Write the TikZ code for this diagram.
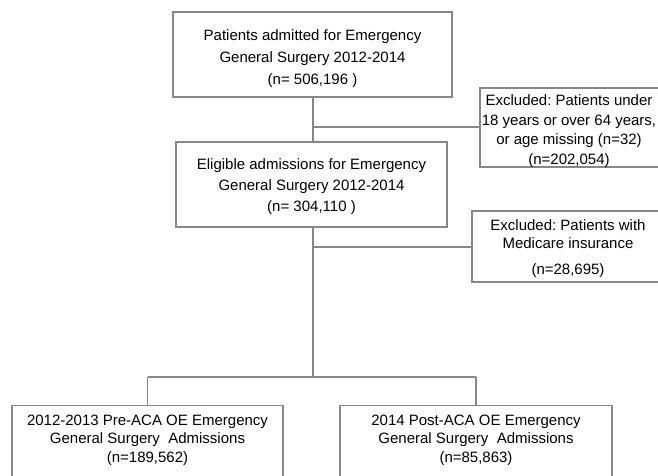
\documentclass[tikz,border=0pt]{standalone}
\usepackage{fontspec}
\setmainfont{Liberation Sans}
\frenchspacing
\definecolor{linegray}{RGB}{135,135,135}
\begin{document}
\begin{tikzpicture}[x=1pt,y=-1pt,
  flowbox/.style={draw=linegray, line width=1.1pt, fill=white, inner sep=0pt},
  boxtext/.style={align=center, anchor=north, inner sep=0pt, text=black},
  conn/.style={draw=linegray, line width=1.1pt}]
\useasboundingbox (0,0) rectangle (658,476);
\clip (0,0) rectangle (658,476);
% boxes
\node[flowbox, minimum width=279pt, minimum height=85pt] (b1) at (312.5,54.5) {};
\node[flowbox, minimum width=184pt, minimum height=79pt] (e1) at (572,127.5) {};
\node[flowbox, minimum width=271pt, minimum height=85pt] (b2) at (311.5,184.5) {};
\node[flowbox, minimum width=194pt, minimum height=71pt] (e2) at (569,246.5) {};
\node[flowbox, minimum width=271pt, minimum height=100pt, anchor=north] (b3) at (147.5,405) {};
\node[flowbox, minimum width=272pt, minimum height=100pt, anchor=north] (b4) at (476,405) {};
% texts
\node[boxtext, font=\fontsize{15}{22}\selectfont] (t1) at (312.5,29.5)
  {Patients admitted for Emergency\\ General Surgery 2012-2014\\ (n= 506,196 )};
\node[boxtext, font=\fontsize{15}{19.5}\selectfont] (te1) at (569,94.5)
  {Excluded: Patients under\\18 years or over 64 years,\\or age missing (n=32)\\(n=202,054)};
\node[boxtext, font=\fontsize{15}{21}\selectfont] (t2) at (311.5,158.5)
  {Eligible admissions for Emergency\\ General Surgery 2012-2014\\ (n= 304,110 )};
\node[boxtext, font=\fontsize{15}{18}\selectfont] (te2) at (568,219.5)
  {Excluded: Patients with\\Medicare insurance\\[8pt](n=28,695)};
\node[boxtext, font=\fontsize{15}{18.8}\selectfont] (t3) at (147.5,414.5)
  {2012-2013 Pre-ACA OE Emergency\\General Surgery\ \ Admissions\\(n=189,562)};
\node[boxtext, font=\fontsize{15}{18.8}\selectfont] (t4) at (476,414.5)
  {2014 Post-ACA OE Emergency\\General Surgery\ \ Admissions\\(n=85,863)};
% connectors
\coordinate (j1) at (313,127);
\coordinate (j2) at (313,247);
\coordinate (j3) at (313,377);
\coordinate (l3) at (147.5,377);
\coordinate (r3) at (476,377);
\draw[conn] (313,0 |- b1.south) -- (313,0 |- b2.north);
\draw[conn] (j1) -- (j1 -| e1.west);
\draw[conn] (313,0 |- b2.south) -- (j3);
\draw[conn] (j2) -- (j2 -| e2.west);
\draw[conn] (l3) -- (r3);
\draw[conn] (l3) -- (l3 |- b3.north);
\draw[conn] (r3) -- (r3 |- b4.north);
\end{tikzpicture}
\end{document}
